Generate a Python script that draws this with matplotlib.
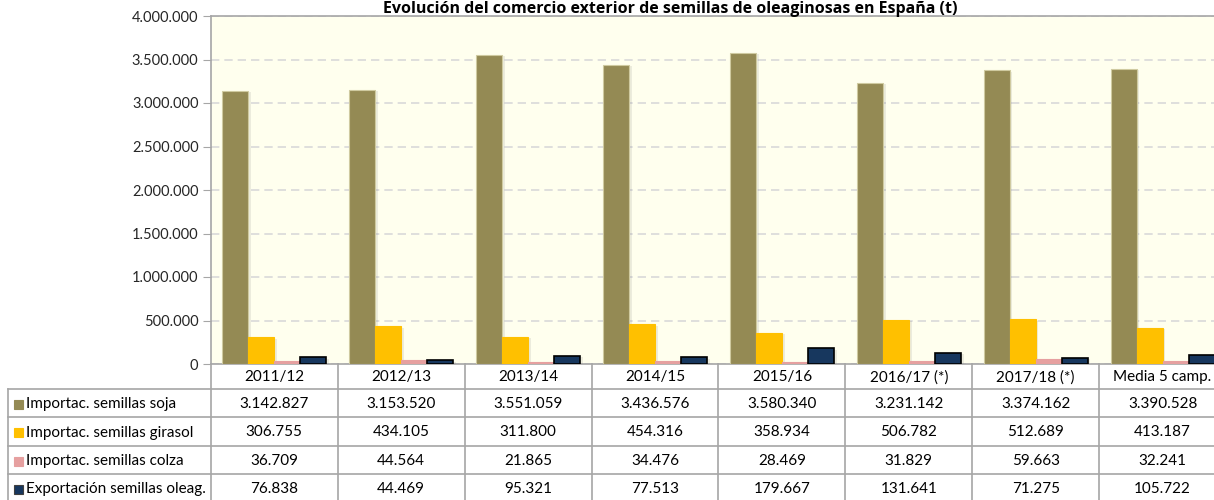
import matplotlib.pyplot as plt
import matplotlib.patheffects as pe
import numpy as np
from matplotlib.ticker import FuncFormatter
from matplotlib.patches import Rectangle

plt.rcParams['font.family'] = ['Lato', 'DejaVu Sans']

campanas = ["2011/12", "2012/13", "2013/14", "2014/15", "2015/16",
            "2016/17 (*)", "2017/18 (*)", "Media 5 camp."]
soja = [3142827, 3153520, 3551059, 3436576, 3580340, 3231142, 3374162, 3390528]
girasol = [306755, 434105, 311800, 454316, 358934, 506782, 512689, 413187]
colza = [36709, 44564, 21865, 34476, 28469, 31829, 59663, 32241]
exportacion = [76838, 44469, 95321, 77513, 179667, 131641, 71275, 105722]

series = ["Importac. semillas soja", "Importac. semillas girasol",
          "Importac. semillas colza", "Exportación semillas oleag."]
datos = [soja, girasol, colza, exportacion]
colores = ["#948A54", "#FFC000", "#E6A0A0", "#17375E"]
bordes = ["#CFCAA0", "#FFC000", "#E6A0A0", "#000000"]

titulo = "Evolución del comercio exterior de semillas de oleaginosas en España (t)"


def miles(v, pos=None):
    return "{:,.0f}".format(v).replace(",", ".")


W, H = 1214, 500
fig = plt.figure(figsize=(W / 100, H / 100), dpi=100)

# grafico de barras
ax = fig.add_axes([211 / W, (H - 364) / H, (1226 - 211) / W, (364 - 16) / H])
ax.set_facecolor("#FFFFEE")
x = np.arange(len(campanas))
bw = 0.205
sombra = [pe.SimplePatchShadow(offset=(2, -1), shadow_rgbFace="#808080", alpha=0.15),
          pe.Normal()]
for i, vals in enumerate(datos):
    ax.bar(x + (i - 1.5) * bw, vals, bw, color=colores[i], edgecolor=bordes[i],
           linewidth=1.2 if i == 3 else 0.8, zorder=3, path_effects=sombra)

ax.set_xlim(-0.5, len(campanas) - 0.5)
ax.set_ylim(0, 4000000)
ax.set_yticks(np.arange(0, 4000001, 500000))
ax.yaxis.set_major_formatter(FuncFormatter(miles))
ax.tick_params(axis="y", labelsize=10.5, labelcolor="#262626", color="#A6A6A6",
               length=6, pad=3)
ax.set_xticks([])
ax.grid(axis="y", color="#D9D9D9", linestyle=(0, (5, 3)), linewidth=1.2, zorder=0)
for s in ["left", "top", "bottom", "right"]:
    ax.spines[s].set_color("#A6A6A6")
    ax.spines[s].set_linewidth(1.2)

fig.text(670 / W, 1.0 - 13 / H, titulo, ha="center", va="baseline",
         fontsize=11.5, fontweight="bold", color="#000000", family="Open Sans")

# tabla de datos
etiq_w = (211 - 8) / 127
tax = fig.add_axes([8 / W, 0, (1226 - 8) / W, 136 / H])
tax.set_xlim(-0.5 - etiq_w, len(campanas) - 0.5)
tax.set_ylim(500, 364)
tax.axis("off")

filas = [364, 389, 417, 446, 474, 502]
gris = "#A6A6A6"
for k in range(len(campanas) + 1):
    tax.plot([k - 0.5, k - 0.5], [364, 502], color=gris, lw=1.2, clip_on=False)
tax.plot([-0.5 - etiq_w] * 2, [389, 502], color=gris, lw=1.2, clip_on=False)
for yl in filas[1:-1]:
    tax.plot([-0.5 - etiq_w, len(campanas) - 0.5], [yl, yl], color=gris, lw=1.2,
             clip_on=False)

for j, c in enumerate(campanas):
    tax.text(j, (filas[0] + filas[1]) / 2 + 1, c, ha="center", va="center",
             fontsize=11, color="#000000")

for i, vals in enumerate(datos):
    ym = (filas[i + 1] + filas[i + 2]) / 2 + 1
    for j, v in enumerate(vals):
        tax.text(j, ym, miles(v), ha="center", va="center", fontsize=11,
                 color="#000000")
    x0 = -0.5 - etiq_w + 6 / 127
    tax.add_patch(Rectangle((x0, ym - 4.5), 9 / 127, 9, facecolor=colores[i],
                            edgecolor="#404040" if i == 3 else colores[i],
                            lw=0.8, clip_on=False))
    tax.text(x0 + 12 / 127, ym, series[i], ha="left", va="center",
             fontsize=11, color="#000000")

fig.savefig("out.png", dpi=100)
